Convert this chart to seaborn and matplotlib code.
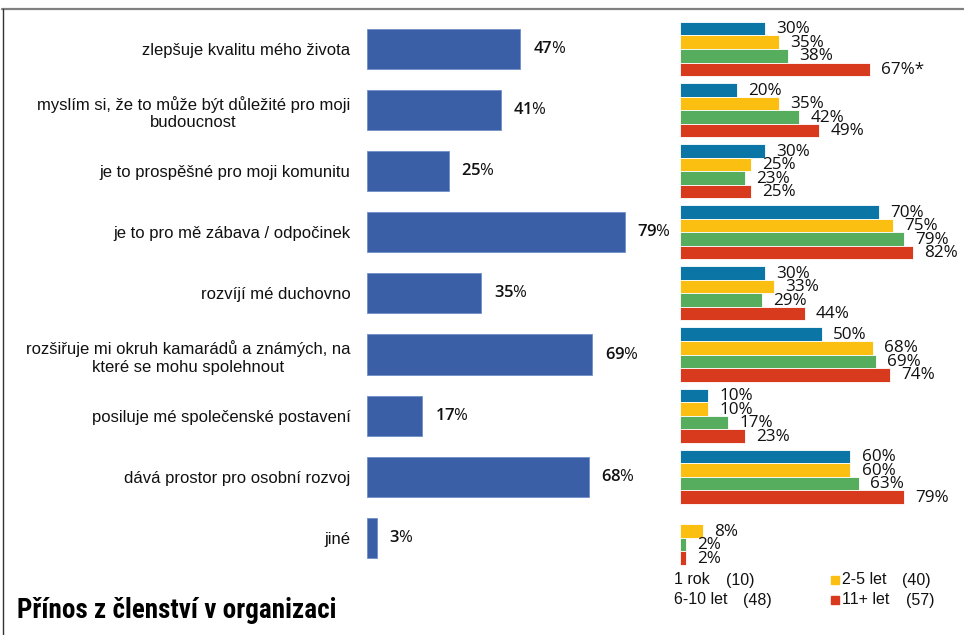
import matplotlib
matplotlib.use("Agg")
import matplotlib.pyplot as plt
from matplotlib import font_manager
import seaborn as sns
import pandas as pd
import numpy as np
from matplotlib.lines import Line2D
from matplotlib.patches import Rectangle

categories = [
    "zlepšuje kvalitu mého života",
    "myslím si, že to může být důležité pro moji\nbudoucnost",
    "je to prospěšné pro moji komunitu",
    "je to pro mě zábava / odpočinek",
    "rozvíjí mé duchovno",
    "rozšiřuje mi okruh kamarádů a známých, na\nkteré se mohu spolehnout",
    "posiluje mé společenské postavení",
    "dává prostor pro osobní rozvoj",
    "jiné",
]
total = [47, 41, 25, 79, 35, 69, 17, 68, 3]

groups = ["1 rok", "2-5 let", "6-10 let", "11+ let"]
group_n = [10, 40, 48, 57]
val_1rok = [30, 20, 30, 70, 30, 50, 10, 60, np.nan]
val_2_5 = [35, 35, 25, 75, 33, 68, 10, 60, 8]
val_6_10 = [38, 42, 23, 79, 29, 69, 17, 63, 2]
val_11 = [67, 49, 25, 82, 44, 74, 23, 79, 2]
notes_11 = ["*", "", "", "", "", "", "", "", ""]

colors = ["#0b76a6", "#fbbf12", "#55ad5d", "#d83a1e"]
main_blue = "#3b5fa6"

sns.set_theme(style="white")
plt.rcParams["font.family"] = ["Liberation Sans", "DejaVu Sans"]
plt.rcParams["mathtext.fontset"] = "custom"
plt.rcParams["mathtext.bf"] = "Open Sans:semibold"
plt.rcParams["mathtext.rm"] = "Open Sans"

W, H = 964, 635
fig = plt.figure(figsize=(W / 100, H / 100), dpi=100)

row0, step = 49.0, 61.1
top_px = row0 - step / 2
bot_px = top_px + 9 * step
ax_b = 1 - bot_px / H
ax_h = 9 * step / H

# ---- left panel
axL = fig.add_axes([367 / W, ax_b, 261 / W, ax_h])
axL.patch.set_alpha(0)
dfL = pd.DataFrame({"cat": categories, "val": total})
sns.barplot(data=dfL, y="cat", x="val", orient="h", color=main_blue,
            width=0.655, saturation=1, ax=axL, edgecolor="#6f8fc8", linewidth=0.6)
axL.set_xlim(0, 80)
axL.set_ylim(8.5, -0.5)
axL.set_xlabel("")
axL.set_ylabel("")
axL.set_xticks([])
for s in axL.spines.values():
    s.set_visible(False)
axL.tick_params(axis="y", length=0, pad=12.0)
for t in axL.get_yticklabels():
    t.set_fontsize(12.0)
    t.set_color("#111111")
    t.set_multialignment("center")
    t.set_linespacing(1.22)

lab_family = ["Open Sans", "DejaVu Sans"]
for i, v in enumerate(total):
    axL.annotate(f"$\\mathbf{{{v}}}$%", xy=(v, i), xytext=(9, 0),
                 textcoords="offset points", ha="left", va="center",
                 fontsize=12, family=lab_family, color="#111111",
                 annotation_clip=False)

# ---- right panel
axR = fig.add_axes([680 / W, ax_b, 284 / W, ax_h])
axR.patch.set_alpha(0)
rows = []
for gname, vals in zip(groups, [val_1rok, val_2_5, val_6_10, val_11]):
    for c, v in zip(categories, vals):
        rows.append({"cat": c, "group": gname, "val": v})
dfR = pd.DataFrame(rows)
sns.barplot(data=dfR, y="cat", x="val", hue="group", hue_order=groups,
            order=categories, orient="h", palette=colors, width=0.885,
            saturation=1, ax=axR, edgecolor="white", linewidth=0.6, legend=False)
axR.set_xlim(0, 100)
axR.set_ylim(8.5, -0.5)
axR.set_xlabel("")
axR.set_ylabel("")
axR.set_xticks([])
axR.set_yticks([])
for s in axR.spines.values():
    s.set_visible(False)

for container, vals, gname in zip(axR.containers, [val_1rok, val_2_5, val_6_10, val_11], groups):
    for k, (bar, v) in enumerate(zip(container, vals)):
        if v is None or (isinstance(v, float) and np.isnan(v)):
            continue
        y = bar.get_y() + bar.get_height() / 2
        lab = f"{int(v)}%"
        if gname == "11+ let":
            lab += notes_11[k]
        axR.annotate(lab, xy=(v, y), xytext=(8, -0.5), textcoords="offset points",
                     ha="left", va="center", fontsize=12.3,
                     family=lab_family, color="#111111",
                     annotation_clip=False)

# ---- legend (manual)
leg_fs = 11.5
fig.text(674 / W, 1 - 580 / H, "1 rok", fontsize=leg_fs, va="center", ha="left", color="#111111")
fig.text(726 / W, 1 - 580 / H, f"({group_n[0]})", fontsize=leg_fs, va="center", ha="left", color="#111111")
fig.text(674 / W, 1 - 600 / H, "6-10 let", fontsize=leg_fs, va="center", ha="left", color="#111111")
fig.text(743 / W, 1 - 600 / H, f"({group_n[2]})", fontsize=leg_fs, va="center", ha="left", color="#111111")
fig.patches.append(Rectangle((831 / W, 1 - 583.5 / H), 7.5 / W, 7.5 / H,
                             transform=fig.transFigure, color=colors[1]))
fig.text(842 / W, 1 - 580 / H, "2-5 let", fontsize=leg_fs, va="center", ha="left", color="#111111")
fig.text(902 / W, 1 - 580 / H, f"({group_n[1]})", fontsize=leg_fs, va="center", ha="left", color="#111111")
fig.patches.append(Rectangle((831 / W, 1 - 603.5 / H), 7.5 / W, 7.5 / H,
                             transform=fig.transFigure, color=colors[3]))
fig.text(842 / W, 1 - 600 / H, "11+ let", fontsize=leg_fs, va="center", ha="left", color="#111111")
fig.text(906 / W, 1 - 600 / H, f"({group_n[3]})", fontsize=leg_fs, va="center", ha="left", color="#111111")

# ---- title: prefer a condensed / narrow bold face if one is installed
title_family = ["DejaVu Sans"]
title_stretch = "normal"
names = {f.name for f in font_manager.fontManager.ttflist}
for cand in ["Liberation Sans Narrow", "Roboto Condensed", "Open Sans Condensed",
             "Noto Sans Condensed", "DejaVu Sans Condensed"]:
    if cand in names:
        title_family = [cand, "DejaVu Sans"]
        break
else:
    if any(f.name == "DejaVu Sans" and f.stretch == "condensed"
           for f in font_manager.fontManager.ttflist):
        title_stretch = "condensed"

title = fig.text(17 / W, 1 - 610 / H, "Přínos z členství v organizaci", fontsize=18,
                 fontweight="bold", family=title_family, fontstretch=title_stretch,
                 va="center", ha="left", color="#000000")
fig.canvas.draw()
bb = title.get_window_extent()
target_w = 331.0
title.set_fontsize(min(19.5, 18 * target_w / bb.width))

# ---- frame
fig.add_artist(Line2D([2 / W, 1], [1 - 9 / H, 1 - 9 / H], transform=fig.transFigure,
                      color="#808080", lw=1.6))
fig.add_artist(Line2D([2.5 / W, 2.5 / W], [0, 1 - 9 / H], transform=fig.transFigure,
                      color="#333333", lw=1.0))

fig.savefig("out.png", dpi=100)
